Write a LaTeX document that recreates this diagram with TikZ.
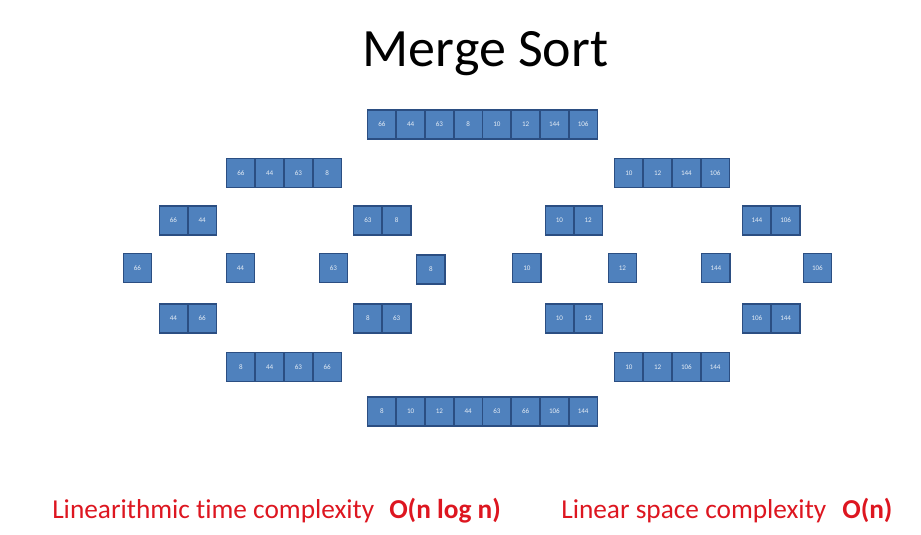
\documentclass[tikz,border=0pt]{standalone}
\usepackage{fontspec}
\setmainfont[Ligatures=NoCommon]{Carlito}
\usepackage{xcolor}
\definecolor{cellc}{HTML}{4F81BD}
\definecolor{edgec}{HTML}{2B4E82}
\definecolor{notec}{HTML}{DD1620}

\tikzset{
  cell/.style={draw=edgec, fill=cellc, line width=1.1pt, inner sep=0pt,
    minimum width=21.3pt, minimum height=21.6pt,
    text=white!85!cellc, font=\fontsize{5.3}{6}\selectfont},
  note/.style={anchor=base west, text=notec, font=\fontsize{20.5}{22}\selectfont, inner sep=0pt}
}
% one array: name, left x, centre y, values
\newcommand{\cellrow}[4]{%
  \foreach \v [count=\i] in {#4} {
    \node[cell, anchor=west] (#1-\i) at ({#2+(\i-1)*28.75},#3) {\v};
  }}

\begin{document}
\begin{tikzpicture}[x=0.75pt, y=-0.75pt]
  \useasboundingbox (0,0) rectangle (921,535);
  % title
  \node[anchor=base, inner sep=0pt, font=\fontsize{40.5}{44}\selectfont] (title) at (485.5,67) {Merge Sort};
  % split
  \cellrow{all}{367}{124.5}{66,44,63,8,10,12,144,106}
  \cellrow{la}{226}{173}{66,44,63,8}
  \cellrow{ra}{614}{173}{10,12,144,106}
  \cellrow{lla}{158.5}{220.5}{66,44}
  \cellrow{lra}{353}{220.5}{63,8}
  \cellrow{rla}{544.5}{220.5}{10,12}
  \cellrow{rra}{742}{220.5}{144,106}
  % single elements
  \cellrow{s1}{122.5}{268}{66}
  \cellrow{s2}{225.5}{268}{44}
  \cellrow{s3}{318.5}{268}{63}
  \cellrow{s4}{416}{269.5}{8}
  \cellrow{s5}{512}{268}{10}
  \cellrow{s6}{607.5}{268}{12}
  \cellrow{s7}{701}{268}{144}
  \cellrow{s8}{802.5}{268}{106}
  % merge
  \cellrow{llb}{158.5}{318.5}{44,66}
  \cellrow{lrb}{353}{318.5}{8,63}
  \cellrow{rlb}{544.5}{318.5}{10,12}
  \cellrow{rrb}{742}{318.5}{106,144}
  \cellrow{lb}{226}{367}{8,44,63,66}
  \cellrow{rb}{614}{367}{10,12,106,144}
  \cellrow{sorted}{367}{411.5}{8,10,12,44,63,66,106,144}
  % complexity
  \node[note] (timetxt) at (52,518) {Linearithmic time complexity};
  \node[note, font=\fontsize{20.5}{22}\selectfont\bfseries] (timeo) at (389,518) {O(n log n)};
  \node[note] (spacetxt) at (561,518) {Linear space complexity};
  \node[note, font=\fontsize{20.5}{22}\selectfont\bfseries] (spaceo) at (842,518) {O(n)};
\end{tikzpicture}
\end{document}
